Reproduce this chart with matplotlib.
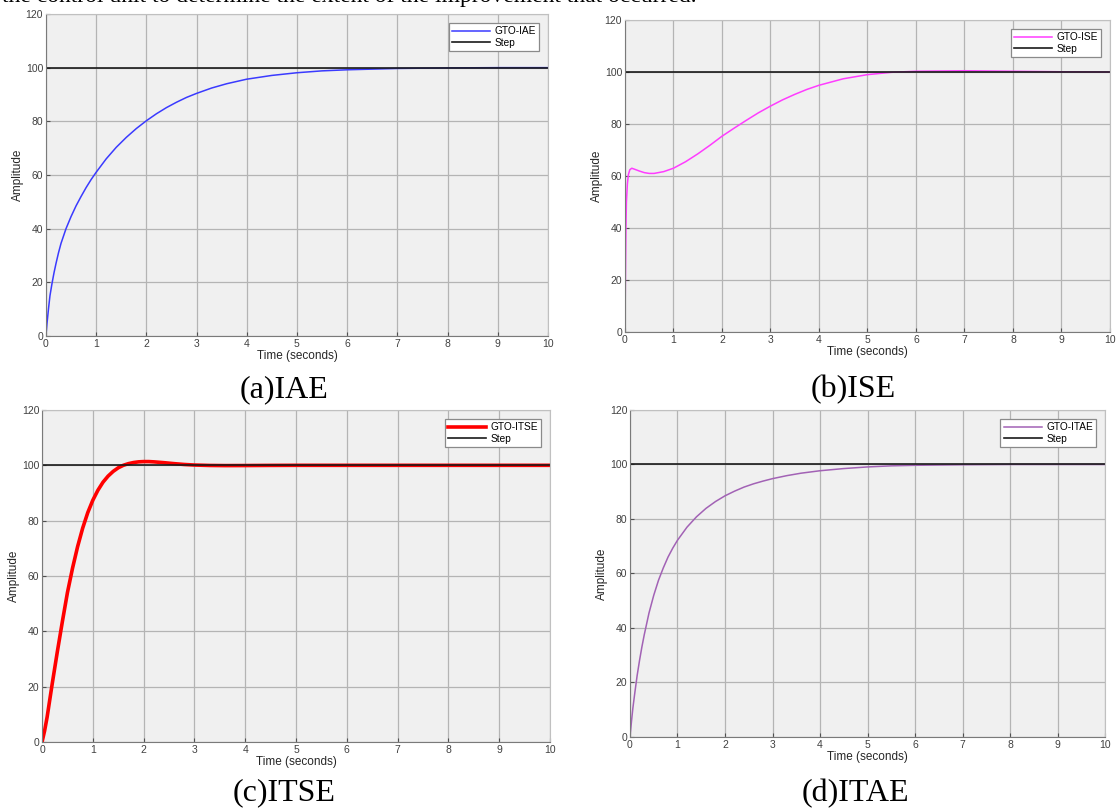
import matplotlib
matplotlib.use("Agg")
import matplotlib.pyplot as plt

# step responses of the four tuned controllers (time in s, amplitude)
t_iae = [0, 0.02, 0.05, 0.08, 0.12, 0.16, 0.2, 0.25, 0.3, 0.4, 0.5, 0.6, 0.7, 0.8, 0.9,
         1.0, 1.2, 1.4, 1.6, 1.8, 2.0, 2.2, 2.4, 2.6, 2.8, 3.0, 3.3, 3.6, 4.0, 4.5, 5.0,
         5.5, 6.0, 7.0, 8.0, 9.0, 10.0]
y_iae = [0, 4.5, 10, 15, 19.5, 23.5, 27, 31, 34.5, 40, 44.5, 48.5, 52, 55.3, 58.3,
         61, 66, 70.3, 74, 77.3, 80.2, 82.8, 85.1, 87.1, 88.9, 90.4, 92.4, 94, 95.7, 97.1, 98.1,
         98.8, 99.2, 99.7, 99.9, 100, 100]

t_ise = [0, 0.01, 0.02, 0.03, 0.05, 0.07, 0.1, 0.14, 0.2, 0.3, 0.4, 0.5, 0.6, 0.8, 1.0,
         1.25, 1.5, 1.75, 2.0, 2.25, 2.5, 2.75, 3.0, 3.25, 3.5, 3.75, 4.0, 4.5, 5.0, 5.5,
         6.0, 7.0, 8.0, 9.0, 10.0]
y_ise = [0, 22, 40, 50, 57, 60.5, 62.4, 63, 62.6, 61.9, 61.3, 61.0, 61.0, 61.7, 63.0,
         65.5, 68.5, 71.8, 75.3, 78.4, 81.4, 84.3, 86.9, 89.3, 91.4, 93.3, 94.9, 97.4, 99.0,
         99.9, 100.3, 100.5, 100.3, 100.1, 100.0]

t_itse = [0, 0.05, 0.1, 0.15, 0.2, 0.3, 0.4, 0.5, 0.6, 0.7, 0.8, 0.9, 1.0, 1.1, 1.2, 1.3,
          1.4, 1.5, 1.6, 1.7, 1.8, 1.9, 2.0, 2.1, 2.2, 2.4, 2.6, 2.8, 3.0, 3.3, 3.6, 4.0,
          4.5, 5.0, 6.0, 8.0, 10.0]
y_itse = [0, 4, 9, 15, 21, 32.5, 43.5, 54, 62.8, 70.6, 77.3, 82.9, 87.4, 91, 93.9, 96.1,
          97.8, 99.1, 100, 100.6, 101, 101.25, 101.35, 101.35, 101.25, 100.95, 100.6, 100.3,
          100.1, 99.95, 99.9, 99.92, 99.97, 100, 100, 100, 100]

t_itae = [0, 0.03, 0.06, 0.1, 0.15, 0.2, 0.25, 0.3, 0.4, 0.5, 0.6, 0.7, 0.8, 0.9, 1.0,
          1.2, 1.4, 1.6, 1.8, 2.0, 2.2, 2.4, 2.6, 2.8, 3.0, 3.3, 3.6, 4.0, 4.5, 5.0, 5.5,
          6.0, 7.0, 8.0, 10.0]
y_itae = [0, 5.5, 10.5, 16, 22.5, 28, 33, 37.5, 45.5, 52, 57.5, 62, 66, 69.3, 72.2,
          77, 80.8, 83.9, 86.4, 88.5, 90.2, 91.7, 92.9, 93.9, 94.8, 95.9, 96.8, 97.7, 98.5,
          99.1, 99.5, 99.7, 99.9, 100, 100]

t_step = [0, 10]
y_step = [100, 100]

labels = ["GTO-IAE", "GTO-ISE", "GTO-ITSE", "GTO-ITAE"]
captions = ["(a)IAE", "(b)ISE", "(c)ITSE", "(d)ITAE"]
colors = ["#3a3aff", "#ff3cff", "#ff0000", "#a262b5"]
widths = [1.1, 1.1, 2.6, 1.1]
series = [(t_iae, y_iae), (t_ise, y_ise), (t_itse, y_itse), (t_itae, y_itae)]

# axes boxes [left, bottom, width, height] and caption positions
boxes = [[0.0411, 0.5842, 0.4490, 0.3985],
         [0.5590, 0.5891, 0.4338, 0.3861],
         [0.0376, 0.0817, 0.4544, 0.4109],
         [0.5635, 0.0879, 0.4249, 0.4047]]
cap_xy = [(0.254, 0.509), (0.763, 0.509), (0.254, 0.010), (0.765, 0.008)]

plt.rcParams['font.family'] = ['Liberation Sans', 'DejaVu Sans']

fig = plt.figure(figsize=(11.18, 8.08), dpi=100)

for i in range(4):
    ax = fig.add_axes(boxes[i])
    ax.set_facecolor("#f0f0f0")
    t, y = series[i]
    ax.plot(t, y, color=colors[i], lw=widths[i], label=labels[i])
    ax.plot(t_step, y_step, color="#1a1a1a", lw=1.2, label="Step")
    ax.set_xlim(0, 10)
    ax.set_ylim(0, 120)
    ax.set_xticks(range(0, 11))
    ax.set_yticks(range(0, 121, 20))
    ax.grid(True, color="#b4b4b4", lw=0.9)
    ax.set_axisbelow(True)
    ax.tick_params(direction="in", length=3, labelsize=7.5, colors="#505050",
                   labelcolor="#404040", pad=2)
    for side in ["top", "right"]:
        ax.spines[side].set_color("#c0c0c0")
    for side in ["left", "bottom"]:
        ax.spines[side].set_color("#7a7a7a")
    ax.set_xlabel("Time (seconds)", fontsize=8.5, color="#262626", labelpad=1)
    ax.set_ylabel("Amplitude", fontsize=8.5, color="#262626", labelpad=1)
    leg = ax.legend(loc="upper right", fontsize=7.3, handlelength=3.8, borderpad=0.3,
                    labelspacing=0.15, handletextpad=0.4, fancybox=False,
                    framealpha=1, edgecolor="#8a8a8a", borderaxespad=0.9)
    leg.get_frame().set_linewidth(0.9)
    fig.text(cap_xy[i][0], cap_xy[i][1], captions[i], fontsize=23,
             family="Liberation Serif", ha="center")

# tail of the paragraph above the figure
fig.text(0.002, 0.9975, "the control unit to determine the extent of the improvement that occurred.",
         fontsize=17, family="Liberation Serif", ha="left", va="baseline")

fig.savefig("out.png", dpi=100, facecolor="white")
